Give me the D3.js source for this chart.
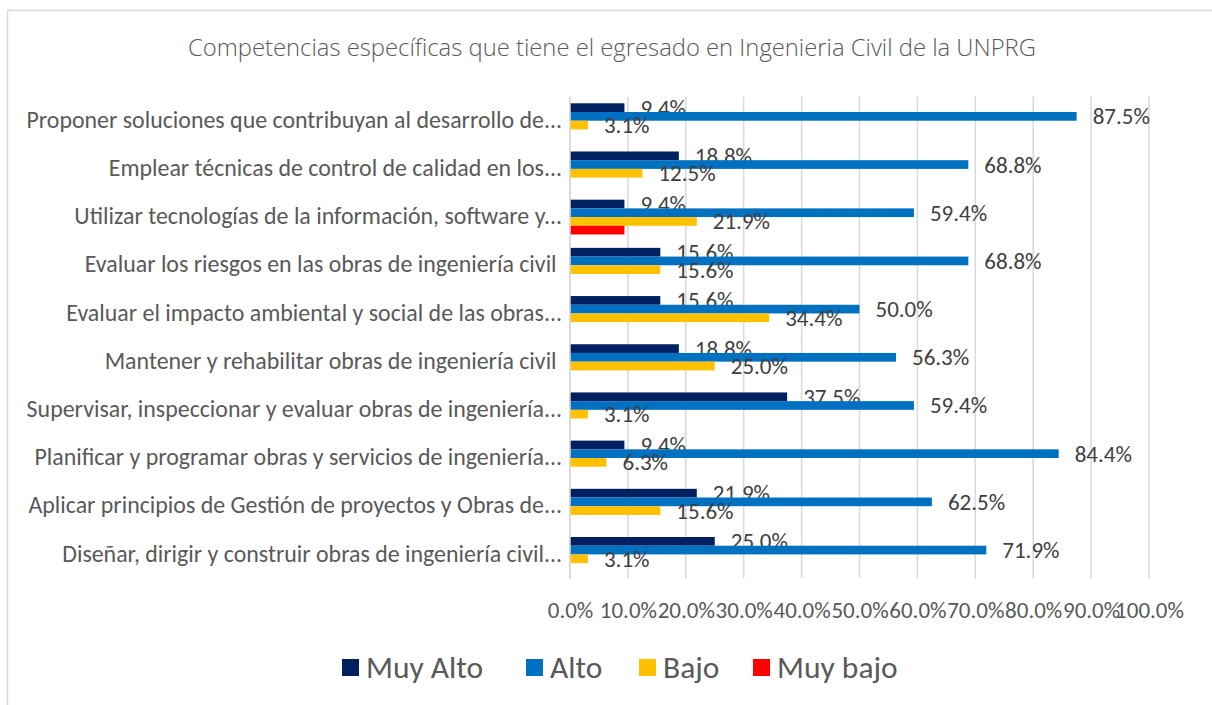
<!DOCTYPE html>
<html>
<head>
<meta charset="utf-8">
<script src="https://cdn.jsdelivr.net/npm/d3@7"></script>
<style>
body { margin: 0; background: #fff; }
svg text { font-family: Carlito, Lato, "Open Sans", sans-serif; }
</style>
</head>
<body>
<div id="chart"></div>
<script>
// datos (de arriba hacia abajo)
var categorias = [
  "Proponer soluciones que contribuyan al desarrollo de...",
  "Emplear técnicas de control de calidad en los...",
  "Utilizar tecnologías de la información, software y...",
  "Evaluar los riesgos en las obras de ingeniería civil ",
  "Evaluar el impacto ambiental y social de las obras...",
  "Mantener y rehabilitar obras de ingeniería civil ",
  "Supervisar, inspeccionar y evaluar obras de ingeniería...",
  "Planificar y programar obras y servicios de ingeniería...",
  "Aplicar principios de Gestión de proyectos y Obras de...",
  "Diseñar, dirigir y construir obras de ingeniería civil..."
];
var muyAlto = [0.094, 0.188, 0.094, 0.156, 0.156, 0.188, 0.375, 0.094, 0.219, 0.250];
var alto    = [0.875, 0.688, 0.594, 0.688, 0.500, 0.563, 0.594, 0.844, 0.625, 0.719];
var bajo    = [0.031, 0.125, 0.219, 0.156, 0.344, 0.250, 0.031, 0.063, 0.156, 0.031];
var muyBajo = [null, null, 0.094, null, null, null, null, null, null, null];
var series = ["Muy Alto", "Alto", "Bajo", "Muy bajo"];
var colores = ["#002060", "#0070C0", "#FFC000", "#FF0000"];
var ticks = [0, 0.1, 0.2, 0.3, 0.4, 0.5, 0.6, 0.7, 0.8, 0.9, 1.0];
var titulo = "Competencias específicas que tiene el egresado en Ingenieria Civil de la UNPRG";

var valores = [muyAlto, alto, bajo, muyBajo];
var conEtiqueta = [true, true, true, false];

var width = 1212, height = 705;

var svg = d3.select("#chart").append("svg")
  .attr("width", width)
  .attr("height", height);

// marco del grafico
svg.append("rect")
  .attr("x", 7.5).attr("y", 10.5)
  .attr("width", 1240).attr("height", 720)
  .attr("fill", "#fff")
  .attr("stroke", "#d9d9d9")
  .attr("stroke-width", 1.5);

svg.append("text")
  .attr("x", 612).attr("y", 47)
  .attr("text-anchor", "middle")
  .attr("dominant-baseline", "central")
  .style("font-family", "'Open Sans', Lato, sans-serif")
  .style("font-size", "23.8px")
  .style("font-weight", 300)
  .attr("fill", "#595959")
  .text(titulo);

var x = d3.scaleLinear().domain([0, 1]).range([570, 1149]);
var y = d3.scaleBand().domain(d3.range(categorias.length))
  .range([96.6, 578.5])
  .paddingInner(0.278).paddingOuter(0.139);
var ys = d3.scaleBand().domain(d3.range(series.length)).range([0, y.bandwidth()]);

// cuadricula
svg.append("g").selectAll("line")
  .data(ticks)
  .enter().append("line")
  .attr("x1", function(d) { return x(d); })
  .attr("x2", function(d) { return x(d); })
  .attr("y1", y.range()[0])
  .attr("y2", y.range()[1])
  .attr("stroke", "#d9d9d9")
  .attr("stroke-width", 1.5);

// eje x
var axX = svg.append("g")
  .attr("transform", "translate(0," + y.range()[1] + ")")
  .call(d3.axisBottom(x).tickValues(ticks).tickSize(0).tickPadding(23)
    .tickFormat(function(d) { return d3.format(".1f")(d * 100) + "%"; }));
axX.select(".domain").remove();
axX.selectAll("text")
  .attr("fill", "#595959")
  .style("font-size", "23px")
  .style("font-family", "Carlito, Lato, sans-serif");

// eje y (categorias)
var axY = svg.append("g")
  .attr("transform", "translate(" + x(0) + ",0)")
  .call(d3.axisLeft(y).tickSize(0).tickPadding(8)
    .tickFormat(function(i) { return categorias[i]; }));
axY.select(".domain").remove();
axY.selectAll("text")
  .attr("fill", "#595959")
  .attr("dy", "0.3em")
  .style("font-size", "23.9px")
  .style("font-family", "Carlito, Lato, sans-serif")
  .style("white-space", "pre");

// barras
for (var s = 0; s < series.length; s++) {
  var g = svg.append("g");
  var datos = valores[s].map(function(v, i) { return {v: v, i: i}; })
    .filter(function(d) { return d.v != null; });
  g.selectAll("rect")
    .data(datos)
    .enter().append("rect")
    .attr("x", x(0))
    .attr("y", function(d) { return y(d.i) + ys(s); })
    .attr("width", function(d) { return x(d.v) - x(0); })
    .attr("height", ys.bandwidth())
    .attr("fill", colores[s]);
  if (conEtiqueta[s]) {
    g.selectAll("text")
      .data(datos)
      .enter().append("text")
      .attr("x", function(d) { return x(d.v) + 16; })
      .attr("y", function(d) { return y(d.i) + ys(s) + ys.bandwidth() / 2; })
      .attr("dominant-baseline", "central")
      .attr("fill", "#404040")
      .style("font-size", "23px")
      .text(function(d) { return d3.format(".1f")(d.v * 100) + "%"; });
  }
}

// eje vertical en 0
svg.append("line")
  .attr("x1", x(0)).attr("x2", x(0))
  .attr("y1", y.range()[0]).attr("y2", y.range()[1])
  .attr("stroke", "#d9d9d9")
  .attr("stroke-width", 1.5);

// leyenda
var leyX = [342, 526, 639, 753];
var ley = svg.append("g");
series.forEach(function(n, i) {
  ley.append("rect")
    .attr("x", leyX[i]).attr("y", 659)
    .attr("width", 17).attr("height", 17)
    .attr("fill", colores[i]);
  ley.append("text")
    .attr("x", leyX[i] + 24).attr("y", 667)
    .attr("dominant-baseline", "central")
    .attr("fill", "#595959")
    .style("font-size", "31.5px")
    .text(n);
});
</script>
</body>
</html>
